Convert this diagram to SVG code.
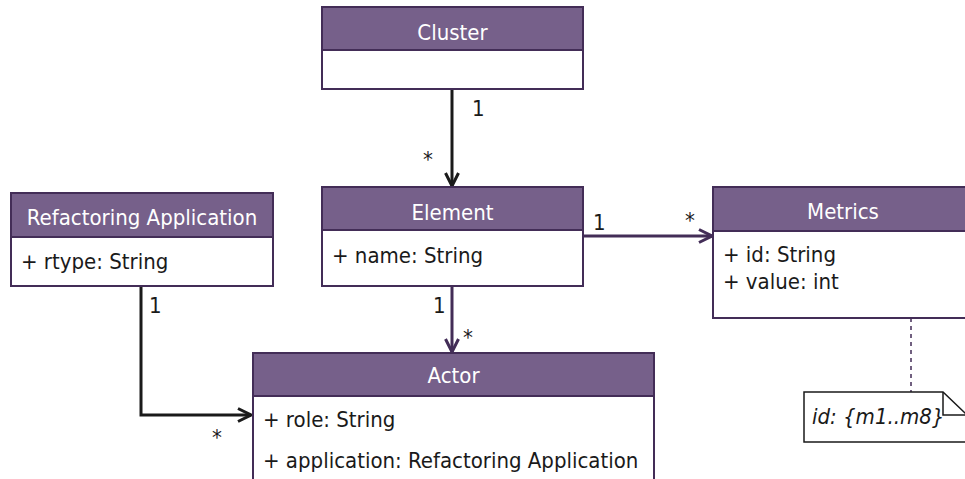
<svg xmlns="http://www.w3.org/2000/svg" width="965" height="479" viewBox="0 0 965 479">
<style>
text{font-family:"DejaVu Sans Condensed","DejaVu Sans",sans-serif;font-size:22px;fill:#1a1a1a}
.hd{fill:#76608a;stroke:#432d57;stroke-width:2}
.bd{fill:#fff;stroke:#432d57;stroke-width:2}
.ht{fill:#fff;text-anchor:middle}
.c{fill:none;stroke-width:3}
.k{stroke:#1a1a1a}
.p{stroke:#432d57}
</style>
<defs>
<marker id="ak" viewBox="0 0 16 16" refX="15" refY="8" markerWidth="16" markerHeight="16" markerUnits="userSpaceOnUse" orient="auto"><path d="M2,1.5 L15,8 L2,14.5" fill="none" stroke="#1a1a1a" stroke-width="3"/></marker>
<marker id="ap" viewBox="0 0 16 16" refX="15" refY="8" markerWidth="16" markerHeight="16" markerUnits="userSpaceOnUse" orient="auto"><path d="M2,1.5 L15,8 L2,14.5" fill="none" stroke="#432d57" stroke-width="3"/></marker>
</defs>
<rect width="965" height="479" fill="#fff"/>
<g id="connectors">
<path class="c k" d="M452,89 L452,186" marker-end="url(#ak)"/>
<path class="c p" d="M452,286 L452,352" marker-end="url(#ap)"/>
<path class="c p" d="M583,236 L712,236" marker-end="url(#ap)"/>
<path class="c k" d="M141,286 L141,415 L251,415" marker-end="url(#ak)"/>
<path d="M911,318 L911,392" fill="none" stroke="#432d57" stroke-width="1.5" stroke-dasharray="4,4"/>
<text x="472" y="116">1</text>
<text x="423" y="167">*</text>
<text x="593" y="230">1</text>
<text x="685" y="228">*</text>
<text x="433" y="313">1</text>
<text x="463" y="345">*</text>
<text x="149" y="313">1</text>
<text x="212" y="445">*</text>
</g>
<g id="cluster">
<rect class="bd" x="322" y="7" width="261" height="82"/>
<rect class="hd" x="322" y="7" width="261" height="43"/>
<text class="ht" x="452.5" y="40">Cluster</text>
</g>
<g id="element">
<rect class="bd" x="322" y="187" width="261" height="99"/>
<rect class="hd" x="322" y="187" width="261" height="43"/>
<text class="ht" x="452.5" y="220">Element</text>
<text x="332" y="263">+ name: String</text>
</g>
<g id="refactoring-application">
<rect class="bd" x="11" y="193" width="262" height="93"/>
<rect class="hd" x="11" y="193" width="262" height="44"/>
<text class="ht" x="142" y="225">Refactoring Application</text>
<text x="21" y="269">+ rtype: String</text>
</g>
<g id="metrics">
<rect class="bd" x="713" y="187" width="260" height="131"/>
<rect class="hd" x="713" y="187" width="260" height="44"/>
<text class="ht" x="843" y="219">Metrics</text>
<text x="723" y="262">+ id: String</text>
<text x="723" y="289">+ value: int</text>
</g>
<g id="actor">
<rect class="bd" x="253" y="353" width="401" height="140"/>
<rect class="hd" x="253" y="353" width="401" height="43"/>
<text class="ht" x="453.5" y="383">Actor</text>
<text x="263" y="427">+ role: String</text>
<text x="263" y="468">+ application: Refactoring Application</text>
</g>
<g id="note">
<path d="M804,392 L943,392 L967,415 L967,442 L804,442 Z" fill="#fff" stroke="#1a1a1a" stroke-width="1.5"/>
<path d="M943,392 L943,415 L967,415" fill="none" stroke="#1a1a1a" stroke-width="1.5"/>
<text x="812" y="424" font-style="italic">id: {m1..m8}</text>
</g>
</svg>
